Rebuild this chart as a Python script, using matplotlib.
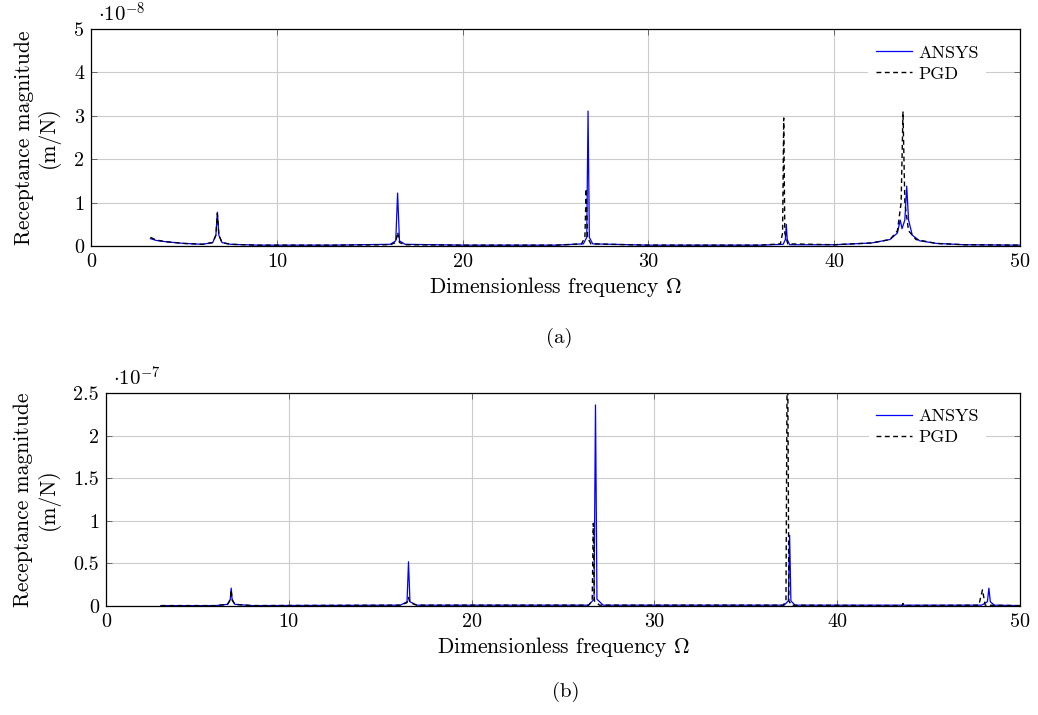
import matplotlib
matplotlib.use("Agg")
import matplotlib.pyplot as plt

plt.rcParams["font.family"] = "serif"
plt.rcParams["font.serif"] = ["cmr10", "DejaVu Serif"]
plt.rcParams["mathtext.fontset"] = "cm"
plt.rcParams["axes.formatter.use_mathtext"] = True
plt.rcParams["axes.unicode_minus"] = False

# (a) values in units of 1e-8 m/N
a_ansys_x = [3.2, 3.5, 4.0, 5.0, 6.0, 6.55, 6.72, 6.8, 6.88, 7.05, 7.5, 9, 13, 16.1, 16.4, 16.5, 16.6, 16.9,
             20, 25, 26.5, 26.68, 26.75, 26.82, 27.0, 30, 36, 37.25, 37.37, 37.42, 37.47, 37.6, 40, 42, 43.0,
             43.4, 43.55, 43.65, 43.8, 43.9, 44.0, 44.2, 44.6, 45.5, 47, 50]
a_ansys_y = [0.17, 0.13, 0.10, 0.06, 0.04, 0.08, 0.25, 0.78, 0.25, 0.08, 0.04, 0.02, 0.02, 0.04, 0.12, 1.22, 0.12, 0.04,
             0.02, 0.02, 0.05, 0.2, 3.11, 0.2, 0.05, 0.02, 0.02, 0.04, 0.15, 0.5, 0.15, 0.03, 0.03, 0.07, 0.15,
             0.3, 0.6, 0.4, 0.6, 1.38, 0.6, 0.25, 0.12, 0.06, 0.03, 0.02]
a_pgd_x = [3.2, 3.5, 4.0, 5.0, 6.0, 6.55, 6.72, 6.8, 6.88, 7.05, 7.5, 9, 13, 16.1, 16.4, 16.5, 16.6, 16.9,
           20, 25, 26.4, 26.58, 26.65, 26.72, 26.9, 30, 36, 37.1, 37.22, 37.28, 37.34, 37.5, 40, 42, 43.0,
           43.4, 43.6, 43.7, 43.8, 44.0, 44.4, 45.5, 47, 50]
a_pgd_y = [0.2, 0.14, 0.10, 0.06, 0.04, 0.08, 0.25, 0.75, 0.25, 0.08, 0.04, 0.02, 0.02, 0.03, 0.08, 0.32, 0.08, 0.03,
           0.02, 0.02, 0.05, 0.2, 1.32, 0.2, 0.05, 0.02, 0.02, 0.05, 0.3, 2.95, 0.3, 0.05, 0.03, 0.07, 0.15,
           0.35, 1.0, 3.1, 1.0, 0.35, 0.15, 0.06, 0.03, 0.02]

# (b) values in units of 1e-7 m/N
b_ansys_x = [3.0, 6.0, 6.65, 6.8, 6.85, 6.9, 7.05, 8, 16.1, 16.47, 16.55, 16.63, 17.0, 26.4, 26.7, 26.78, 26.86,
             27.2, 37.1, 37.33, 37.4, 37.47, 37.7, 47.9, 48.22, 48.3, 48.38, 48.6, 50]
b_ansys_y = [0.005, 0.005, 0.02, 0.08, 0.21, 0.08, 0.02, 0.005, 0.01, 0.05, 0.52, 0.05, 0.01, 0.01, 0.08, 2.36, 0.08,
             0.01, 0.01, 0.06, 0.83, 0.06, 0.01, 0.01, 0.05, 0.21, 0.05, 0.01, 0.005]
b_pgd_x = [3.0, 6.0, 6.65, 6.8, 6.85, 6.9, 7.05, 8, 16.1, 16.47, 16.55, 16.63, 17.0, 26.4, 26.6, 26.66, 26.72,
           27.0, 37.05, 37.2, 37.28, 37.36, 37.5, 43.55, 43.6, 43.65, 47.75, 47.95, 48.1, 50]
b_pgd_y = [0.005, 0.005, 0.02, 0.07, 0.19, 0.07, 0.02, 0.005, 0.01, 0.04, 0.1, 0.04, 0.01, 0.01, 0.06, 0.97, 0.06,
           0.01, 0.01, 0.06, 3.5, 0.06, 0.01, 0.005, 0.03, 0.005, 0.01, 0.19, 0.01, 0.005]

a_yticks = [0, 1, 2, 3, 4, 5]
b_yticks = [0, 0.5, 1, 1.5, 2, 2.5]
b_yticklabels = ["0", "0.5", "1", "1.5", "2", "2.5"]
xticks = [0, 10, 20, 30, 40, 50]


def style_axes(ax, ymax, yticks, yticklabels, exponent):
    ax.set_xlim(0, 50)
    ax.set_ylim(0, ymax)
    ax.set_xticks(xticks)
    ax.set_xticklabels([str(t) for t in xticks])
    ax.set_yticks(yticks)
    ax.set_yticklabels(yticklabels)
    ax.tick_params(direction="in", top=True, right=True, length=4, width=0.6, labelsize=14.5,
                   color="#555555", pad=5)
    ax.grid(True, color="#cccccc", linewidth=0.8)
    ax.set_axisbelow(True)
    for s in ax.spines.values():
        s.set_linewidth(0.9)
    ax.set_xlabel(r"Dimensionless frequency $\Omega$", fontsize=15.5, labelpad=3)
    ax.set_ylabel("Receptance magnitude\n(m/N)", fontsize=15.5, labelpad=10, linespacing=1.2)
    ax.text(0.008, 1.015, r"$\cdot 10^{%d}$" % exponent, transform=ax.transAxes, fontsize=15,
            ha="left", va="bottom")
    leg = ax.legend(loc="upper right", frameon=True, fontsize=13, handlelength=2.0, handletextpad=0.35,
                    borderpad=0.4, labelspacing=0.3, bbox_to_anchor=(0.963, 0.96), borderaxespad=0)
    leg.get_frame().set_edgecolor("none")
    leg.get_frame().set_facecolor("white")
    leg.get_frame().set_alpha(1)


fig = plt.figure(figsize=(10.38, 7.15), dpi=100)
ax1 = fig.add_axes([0.0877, 0.6559, 0.895, 0.3035])
ax2 = fig.add_axes([0.1021, 0.1524, 0.8805, 0.2979])

ax1.plot(a_ansys_x, a_ansys_y, color="blue", linewidth=0.9, label="ANSYS")
ax1.plot(a_pgd_x, a_pgd_y, color="black", linewidth=1.0, linestyle=(0, (3.5, 2.5)), label="PGD")
style_axes(ax1, 5, a_yticks, [str(t) for t in a_yticks], -8)

ax2.plot(b_ansys_x, b_ansys_y, color="blue", linewidth=0.9, label="ANSYS")
ax2.plot(b_pgd_x, b_pgd_y, color="black", linewidth=1.0, linestyle=(0, (3.5, 2.5)), label="PGD")
style_axes(ax2, 2.5, b_yticks, b_yticklabels, -7)

fig.text(0.539, 0.527, "(a)", ha="center", va="center", fontsize=15)
fig.text(0.545, 0.032, "(b)", ha="center", va="center", fontsize=15)

fig.savefig("out.png", dpi=100)
